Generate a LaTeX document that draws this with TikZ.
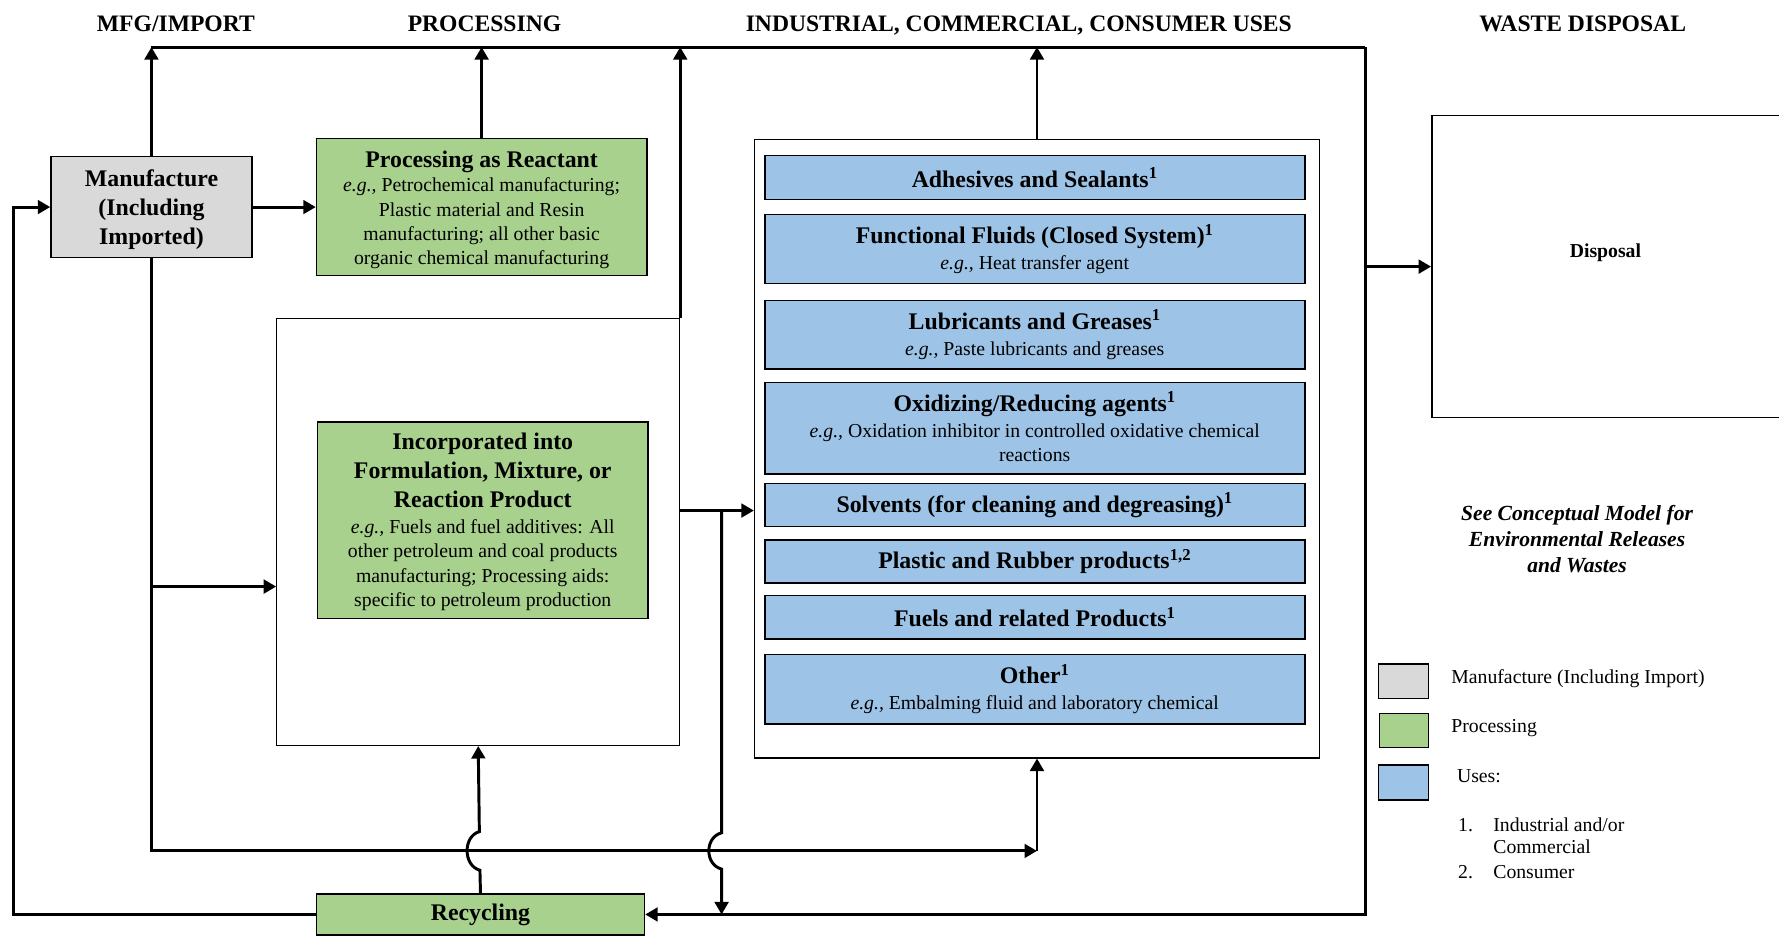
\documentclass[tikz,border=0pt]{standalone}
\usepackage{fontspec}
\setmainfont{Liberation Serif}
\usetikzlibrary{arrows.meta}

\definecolor{mfggray}{HTML}{D9D9D9}
\definecolor{procgreen}{HTML}{A9D18E}
\definecolor{useblue}{HTML}{9DC3E6}

\newcommand{\titlefnt}{\fontsize{21}{25.5}\selectfont\bfseries}
\newcommand{\bodyfnt}{\fontsize{17.4}{21.5}\selectfont}
\newcommand{\headfnt}{\fontsize{20.8}{24}\selectfont\bfseries}

\begin{document}
\begin{tikzpicture}[x=1pt,y=-1pt,
  wire/.style={line width=2.6pt},
  flow/.style={line width=2.6pt,-{Triangle[length=11pt,width=12pt]}},
  box/.style={draw,line width=1.4pt,inner sep=0pt,align=center,font=\bodyfnt},
  txt/.style={inner sep=0pt,align=center,font=\bodyfnt},
  frame/.style={draw,line width=1.1pt,inner sep=0pt},
  usebox/.style={box,fill=useblue,minimum width=476},
  legbox/.style={draw,line width=1.4pt,inner sep=0pt,minimum width=44,minimum height=30},
  head/.style={font=\headfnt,anchor=base,inner sep=0pt},
  legtext/.style={font=\bodyfnt,anchor=base west,inner sep=0pt}]

\useasboundingbox (0,0) rectangle (1568,826);

% column headings
\node[head] (h1) at (155,28) {MFG/IMPORT};
\node[head] (h2) at (427,28) {PROCESSING};
\node[head] (h3) at (898,28) {INDUSTRIAL, COMMERCIAL, CONSUMER USES};
\node[head] (h4) at (1395,28) {WASTE DISPOSAL};

% manufacture
\node[box,fill=mfggray,minimum width=177,minimum height=89] (mfg) at (133.5,182.5) {};
\node[txt,font=\titlefnt] (mfgT) at ([yshift=-2.5pt]mfg.center)
  {Manufacture\\(Including\\Imported)};

% processing
\node[box,fill=procgreen,minimum width=291,minimum height=121] (react) at (424.5,182.5) {};
\node[txt] (reactT) at ([yshift=-2.5pt]react.center)
  {{\titlefnt Processing as Reactant}\\
   \textit{e.g.,} Petrochemical manufacturing;\\
   Plastic material and Resin\\
   manufacturing; all other basic\\
   organic chemical manufacturing};

\node[frame,minimum width=355,minimum height=376] (form) at (421.5,469) {};
\node[box,fill=procgreen,minimum width=291,minimum height=173] (formin) at (425.5,458.5) {};
\node[txt] (forminT) at ([yshift=-1.5pt]formin.center)
  {{\titlefnt Incorporated into}\\[4pt]
   {\titlefnt Formulation, Mixture, or}\\[4pt]
   {\titlefnt Reaction Product}\\[1.5pt]
   \textit{e.g.,} Fuels and fuel additives: All\\
   other petroleum and coal products\\
   manufacturing; Processing aids:\\
   specific to petroleum production};

\node[box,fill=procgreen,font=\titlefnt,minimum width=289,minimum height=36] (rec) at (423.5,806) {Recycling};

% uses
\node[frame,minimum width=498,minimum height=545] (uses) at (914,395.5) {};
\node[usebox,minimum height=39] (u1) at (912,156.5) {{\titlefnt Adhesives and Sealants\textsuperscript{1}}};
\node[usebox,minimum height=61] (u2) at (912,219.5)
  {{\titlefnt Functional Fluids (Closed System)\textsuperscript{1}}\\[1.5pt]\textit{e.g.,} Heat transfer agent};
\node[usebox,minimum height=60] (u3) at (912,295)
  {{\titlefnt Lubricants and Greases\textsuperscript{1}}\\[1.5pt]\textit{e.g.,} Paste lubricants and greases};
\node[usebox,minimum height=81] (u4) at (912,377.5) {};
\node[txt] (u4T) at ([yshift=1.5pt]u4.center)
  {{\titlefnt Oxidizing/Reducing agents\textsuperscript{1}}\\[1.5pt]\textit{e.g.,} Oxidation inhibitor in controlled oxidative chemical\\reactions};
\node[usebox,minimum height=38] (u5) at (912,445) {{\titlefnt Solvents (for cleaning and degreasing)\textsuperscript{1}}};
\node[usebox,minimum height=38] (u6) at (912,495) {{\titlefnt Plastic and Rubber products\textsuperscript{1,2}}};
\node[usebox,minimum height=38] (u7) at (912,544) {{\titlefnt Fuels and related Products\textsuperscript{1}}};
\node[usebox,minimum height=61] (u8) at (912,607.5)
  {{\titlefnt Other\textsuperscript{1}}\\[1.5pt]\textit{e.g.,} Embalming fluid and laboratory chemical};

% disposal
\node[frame,line width=1.3pt,minimum width=308,minimum height=266] (disp) at (1416,235) {};
\node[font=\bodyfnt\bfseries,inner sep=0pt] (displbl) at (1415,223) {Disposal};

\node[font=\fontsize{19}{23}\selectfont\itshape\bfseries,align=center,inner sep=0pt] (note) at (1390,475)
  {See Conceptual Model for\\Environmental Releases\\and Wastes};

% legend
\node[legbox,fill=mfggray] (lg1) at (1237,600.5) {};
\node[legbox,fill=procgreen,minimum width=43] (lg2) at (1237.5,643.7) {};
\node[legbox,fill=useblue,minimum height=31] (lg3) at (1237,689.6) {};
\node[legtext] (lt1) at (1279,602) {Manufacture (Including Import)};
\node[legtext] (lt2) at (1279,646) {Processing};
\node[legtext] (lt3) at (1284,690) {Uses:};
\node[legtext] (ln1) at (1285,733) {1.};
\node[legtext] (li1) at (1316,733) {Industrial and/or};
\node[legtext] (li1b) at (1316,752.5) {Commercial};
\node[legtext] (ln2) at (1285,774) {2.};
\node[legtext] (li2) at (1316,774) {Consumer};

% routing points
\coordinate (topL) at (133,41.5);
\coordinate (topR) at (1203.5,41.5);
\coordinate (botR) at (1203.5,806);
\coordinate (loopx) at (12,0);
\coordinate (brY) at (0,517);
\coordinate (outY) at (0,450);
\coordinate (busE) at (914,750);
\coordinate (jn) at (636,450);
\coordinate (jr) at (636,806);

% upward flows to the top line
\draw[flow] (topR) -- (botR) -- (rec.east);
\draw[wire] (topL) -- (topR);
\draw[flow] (mfg.north) -- (mfg.north |- topL);
\draw[flow] (react.north) -- (react.north |- topL);
\draw[flow] (form.north east) -- (form.north east |- topL);
\draw[flow] (uses.north) -- (uses.north |- topL);

% manufacture outputs
\draw[flow] (mfg.east) -- (react.west);
\draw[flow] (mfg.south) |- (busE);
\draw[flow] (busE) -- (uses.south);
\draw[flow] (mfg.south |- brY) -- (form.west |- brY);

% formulation to uses, and to recycling
\draw[flow] (form.east |- outY) -- (uses.west |- outY);
\draw[flow] (jn) -- (636,734) .. controls (621,738) and (621,762) .. (636,766) -- (jr);

% recycling loops
\draw[flow] (rec.north) -- (423,767) .. controls (408,763) and (408,737) .. (422.5,733) -- (form.south);
\draw[flow] (rec.west) -| (loopx |- mfg.west) -- (mfg.west);

% waste disposal
\draw[flow] (topR |- disp.west) -- (disp.west);

\end{tikzpicture}
\end{document}
